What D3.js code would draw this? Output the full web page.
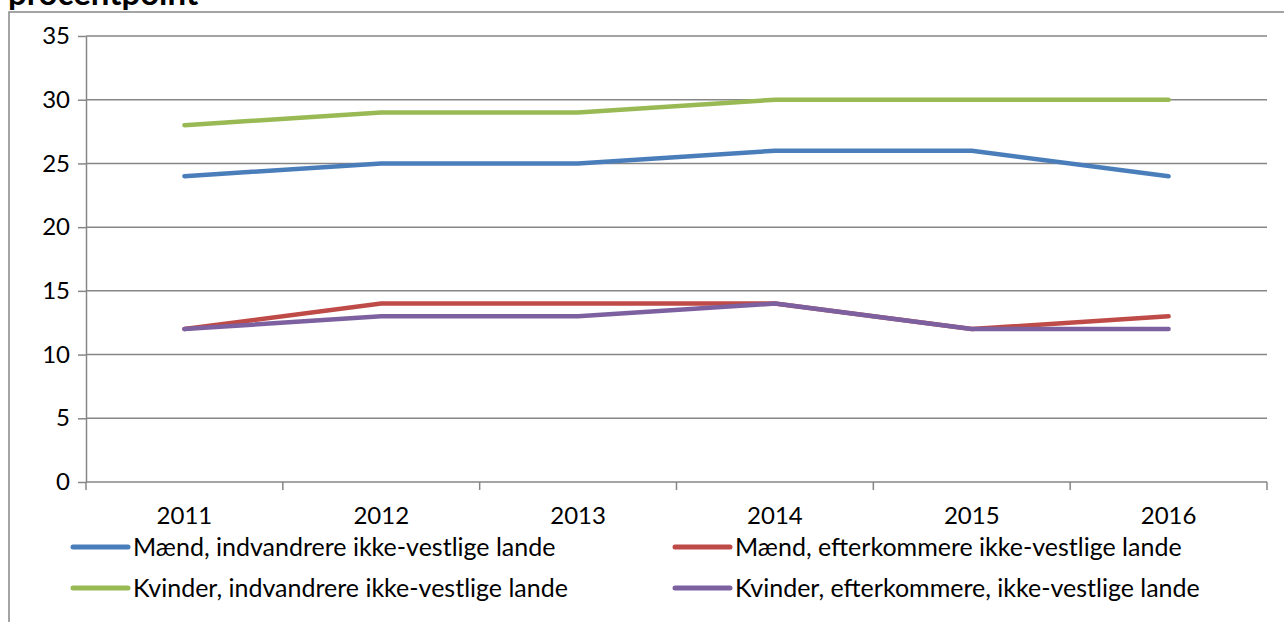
<!DOCTYPE html>
<html>
<head>
<meta charset="utf-8">
<script src="https://cdn.jsdelivr.net/npm/d3@7"></script>
<style>
  body { margin: 0; background: #fff; }
  text { font-family: Lato, "Open Sans", sans-serif; fill: #000; }
</style>
</head>
<body>
<div class="chart"></div>
<script>
// data
let years = ["2011", "2012", "2013", "2014", "2015", "2016"];
let yTicks = [0, 5, 10, 15, 20, 25, 30, 35];
let maendIndv = [24, 25, 25, 26, 26, 24];
let maendEfterk = [12, 14, 14, 14, 12, 13];
let kvinderIndv = [28, 29, 29, 30, 30, 30];
let kvinderEfterk = [12, 13, 13, 14, 12, 12];
let seriesNames = [
  "Mænd, indvandrere ikke-vestlige lande",
  "Mænd, efterkommere ikke-vestlige lande",
  "Kvinder, indvandrere ikke-vestlige lande",
  "Kvinder, efterkommere, ikke-vestlige lande"
];
let seriesColors = ["#4a7ebb", "#be4b48", "#98b954", "#7d60a0"];

let series = [maendIndv, maendEfterk, kvinderIndv, kvinderEfterk].map((vals, i) => ({
  name: seriesNames[i], color: seriesColors[i], values: vals
}));

let svgWidth = 1284;
let svgHeight = 622;
let plot = { left: 86, top: 36, right: 1267, bottom: 482 };

let svg = d3.select(".chart").append("svg")
  .attr("width", svgWidth)
  .attr("height", svgHeight);

// outer chart frame (partly cut off)
svg.append("rect")
  .attr("x", 9).attr("y", 12)
  .attr("width", 1300).attr("height", 700)
  .attr("fill", "none")
  .attr("stroke", "#868686")
  .attr("stroke-width", 1.5);

// title, cut at the top like in the source
svg.append("text")
  .attr("x", 8).attr("y", 5)
  .attr("font-size", 33)
  .attr("font-weight", "bold")
  .attr("font-family", "'Open Sans', sans-serif")
  .text("procentpoint");

let x = d3.scaleBand().domain(years).range([plot.left, plot.right]);
let y = d3.scaleLinear().domain([0, 35]).range([plot.bottom, plot.top]);

// gridlines
svg.append("g").selectAll("line")
  .data(yTicks.filter(d => d > 0))
  .enter().append("line")
  .attr("x1", plot.left).attr("x2", plot.right)
  .attr("y1", d => y(d)).attr("y2", d => y(d))
  .attr("stroke", "#868686").attr("stroke-width", 1.5);

// y axis
let yAxis = svg.append("g")
  .attr("transform", `translate(${plot.left},0)`)
  .call(d3.axisLeft(y).tickValues(yTicks).tickSize(8).tickPadding(8).tickSizeOuter(0));
yAxis.select(".domain").attr("stroke", "#868686").attr("stroke-width", 1.5);
yAxis.selectAll(".tick line").attr("stroke", "#868686").attr("stroke-width", 1.5);
yAxis.selectAll(".tick text").attr("font-size", 24).attr("font-family", "Lato, sans-serif").attr("fill", "#000");

// x axis: ticks sit between categories
let xAxis = svg.append("g")
  .attr("transform", `translate(0,${plot.bottom})`)
  .call(d3.axisBottom(x).tickSize(0).tickPadding(25));
xAxis.select(".domain").remove();
xAxis.selectAll(".tick text").attr("font-size", 24).attr("font-family", "Lato, sans-serif").attr("fill", "#000");
svg.append("line")
  .attr("x1", plot.left).attr("x2", plot.right)
  .attr("y1", plot.bottom).attr("y2", plot.bottom)
  .attr("stroke", "#868686").attr("stroke-width", 1.5);
let bounds = years.map(d => x(d)).concat([plot.right]);
svg.append("g").selectAll("line")
  .data(bounds)
  .enter().append("line")
  .attr("x1", d => d).attr("x2", d => d)
  .attr("y1", plot.bottom).attr("y2", plot.bottom + 8)
  .attr("stroke", "#868686").attr("stroke-width", 1.5);

// lines
let line = d3.line()
  .x((d, i) => x(years[i]) + x.bandwidth() / 2)
  .y(d => y(d));

svg.append("g").selectAll("path")
  .data(series)
  .enter().append("path")
  .attr("d", d => line(d.values))
  .attr("fill", "none")
  .attr("stroke", d => d.color)
  .attr("stroke-width", 4.5)
  .attr("stroke-linecap", "round")
  .attr("stroke-linejoin", "round");

// legend, 2 columns
let legendPos = [[73, 547], [675, 547], [73, 588], [675, 588]];
let legend = svg.append("g").selectAll("g")
  .data(series)
  .enter().append("g")
  .attr("transform", (d, i) => `translate(${legendPos[i][0]},${legendPos[i][1]})`);
legend.append("line")
  .attr("x1", 0).attr("x2", 55)
  .attr("stroke", d => d.color)
  .attr("stroke-width", 5)
  .attr("stroke-linecap", "round");
legend.append("text")
  .attr("x", 60).attr("dy", "0.35em")
  .attr("font-size", 25)
  .text(d => d.name);
</script>
</body>
</html>
